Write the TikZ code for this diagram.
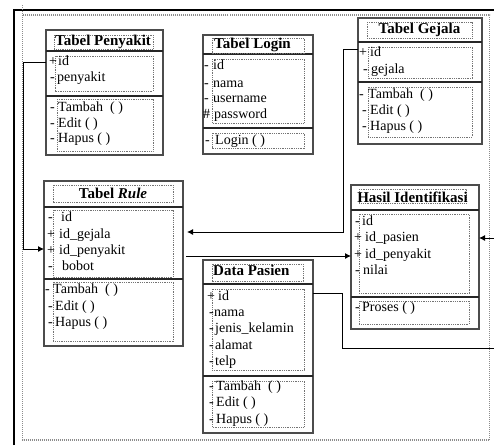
\documentclass[tikz,border=0pt]{standalone}
\usepackage{fontspec}
\setmainfont{Liberation Serif}
\usetikzlibrary{arrows.meta}

% one attribute/operation row: visibility mark and label
\newcommand\umlrow[6]{%
  \node[rowtxt] (#1-v) at (#2,#4) {#5};
  \node[rowtxt] (#1) at (#3,#4) {#6};}

\begin{document}
\begin{tikzpicture}[x=1pt,y=-1pt,
  tbl/.style={rectangle, draw=black!70, line width=1.3pt, inner sep=0pt,
              outer sep=0pt, anchor=north west},
  dotbox/.style={draw=black!55, line width=0.9pt, dash pattern=on 0.9pt off 0.9pt},
  sepline/.style={draw=black!85, line width=1.1pt},
  rowtxt/.style={anchor=mid west, inner sep=0pt, font=\fontsize{14}{16}\selectfont},
  ttl/.style={inner sep=0pt, font=\fontsize{15}{17}\selectfont\bfseries},
  conn/.style={draw=black, line width=0.9pt},
  arr/.style={conn, -{Latex[length=6pt,width=6pt]}},
  framedot/.style={draw=black!45, line width=1.6pt, dash pattern=on 1pt off 1pt}]

\useasboundingbox (0,0) rectangle (494,445);
\fill[white] (0,0) rectangle (494,445);
\clip (0,0) rectangle (494,445);

% page frame
\draw[line width=1.3pt] (14,445) -- (14,10) -- (494,10);
\draw[framedot] (22.5,5) -- (22.5,440) -- (489.5,440) -- (489.5,15) -- (22.5,15);

% ---------- Tabel Penyakit ----------
\node[tbl, minimum width=117pt, minimum height=125pt] (pk) at (46,30) {};
\draw[sepline] (46,51) -- (163,51) (46,96) -- (163,96);
\draw[dotbox] (54,35) rectangle (153,49) (55,56) rectangle (153,91) (57,99) rectangle (153,151);
\node[ttl, anchor=mid west] (pk-t) at (55,43) {Tabel Penyakit};
\umlrow{pk-id}{49}{58}{63}{+}{id}
\umlrow{pk-nm}{50}{57}{79}{-}{penyakit}
\umlrow{pk-m1}{50}{58}{109}{-}{Tambah\ \ ( )}
\umlrow{pk-m2}{50}{58}{125}{-}{Edit ( )}
\umlrow{pk-m3}{50}{58}{140}{-}{Hapus ( )}

% ---------- Tabel Login ----------
\node[tbl, minimum width=110pt, minimum height=119pt] (lg) at (203,35) {};
\draw[sepline] (203,54) -- (313,54) (203,128) -- (313,128);
\draw[dotbox] (212,38) rectangle (304,53) (212,59) rectangle (304,123) (212,133) rectangle (304,148);
\node[ttl, anchor=mid west] (lg-t) at (214,46) {Tabel Login};
\umlrow{lg-id}{204}{213}{67}{-}{id}
\umlrow{lg-nm}{204}{213}{85}{-}{nama}
\umlrow{lg-us}{204}{213}{100}{-}{username}
\umlrow{lg-pw}{203}{214}{116}{\#}{password}
\umlrow{lg-m1}{205}{215}{142}{-}{Login ( )}

% ---------- Tabel Gejala ----------
\node[tbl, minimum width=124pt, minimum height=126pt] (gj) at (358,18) {};
\draw[sepline] (358,42) -- (482,42) (358,82) -- (482,82);
\draw[dotbox] (367,22) rectangle (472,38) (368,47) rectangle (472,78) (368,87) rectangle (472,137);
\node[ttl] (gj-t) at (419.5,30) {Tabel Gejala};
\umlrow{gj-id}{359}{370}{54}{+}{id}
\umlrow{gj-nm}{363}{371}{71}{-}{gejala}
\umlrow{gj-m1}{359}{368}{96}{-}{Tambah\ \ ( )}
\umlrow{gj-m2}{362}{370}{112}{-}{Edit ( )}
\umlrow{gj-m3}{362}{370}{128}{-}{Hapus ( )}

% ---------- Tabel Rule ----------
\node[tbl, minimum width=139pt, minimum height=165pt] (rl) at (44,181) {};
\draw[sepline] (44,207) -- (183,207) (44,279) -- (183,279);
\draw[dotbox] (53,185) rectangle (173,202) (53,210) rectangle (173,277) (53,282) rectangle (173,341);
\node[ttl] (rl-t) at (113,193) {Tabel \textit{Rule}};
\umlrow{rl-id}{48}{61}{219}{-}{id}
\umlrow{rl-gj}{47}{59}{236}{+}{id\_gejala}
\umlrow{rl-pk}{47}{59}{252}{+}{id\_penyakit}
\umlrow{rl-bb}{48}{62}{268}{-}{bobot}
\umlrow{rl-m1}{45}{53}{291}{-}{Tambah\ \ ( )}
\umlrow{rl-m2}{48}{55}{308}{-}{Edit ( )}
\umlrow{rl-m3}{48}{55}{324}{-}{Hapus ( )}

% ---------- Hasil Identifikasi ----------
\node[tbl, minimum width=128pt, minimum height=144pt] (hs) at (351,185) {};
\draw[sepline] (351,210) -- (479,210) (351,297) -- (479,297);
\draw[dotbox] (359,189) rectangle (466,203) (359,214) rectangle (469,293) (359,301) rectangle (469,324);
\node[ttl] (hs-t) at (412.5,197) {Hasil Identif{}ikasi};
\umlrow{hs-id}{355}{362}{223}{-}{id}
\umlrow{hs-ps}{354}{365}{239}{+}{id\_pasien}
\umlrow{hs-pk}{354}{365}{256}{+}{id\_penyakit}
\umlrow{hs-nl}{355}{363}{272}{-}{nilai}
\umlrow{hs-m1}{355}{362}{309}{-}{Proses ( )}

% ---------- Data Pasien ----------
\node[tbl, minimum width=110pt, minimum height=173pt] (dp) at (203,260) {};
\draw[sepline] (203,284) -- (313,284) (203,376) -- (313,376);
\draw[dotbox] (212,264) rectangle (303,281) (212,289) rectangle (304,370) (212,381) rectangle (304,427);
\node[ttl, anchor=mid west] (dp-t) at (213,273) {Data Pasien};
\umlrow{dp-id}{207}{218}{298}{+}{id}
\umlrow{dp-nm}{209}{214}{314}{-}{nama}
\umlrow{dp-jk}{209}{215}{330}{-}{jenis\_kelamin}
\umlrow{dp-al}{209}{215}{347}{-}{alamat}
\umlrow{dp-tl}{209}{215}{363}{-}{telp}
\umlrow{dp-m1}{209}{216}{388}{-}{Tambah\ \ ( )}
\umlrow{dp-m2}{209}{216}{404}{-}{Edit ( )}
\umlrow{dp-m3}{209}{216}{421}{-}{Hapus ( )}

% ---------- relations ----------
\draw[arr] (pk.west |- 0,62) -| (23,249) -- (rl.west |- 0,249);
\draw[arr, shorten >=4pt] (gj.west |- 0,49) -| (343,232) -- (rl.east |- 0,232);
\draw[arr, shorten <=3pt] (rl.east |- 0,256) -- (hs.west |- 0,256);
\draw[arr] (dp.east |- 0,293) -| (342,348) -| (498,238) -- (hs.east |- 0,238);

\end{tikzpicture}
\end{document}
